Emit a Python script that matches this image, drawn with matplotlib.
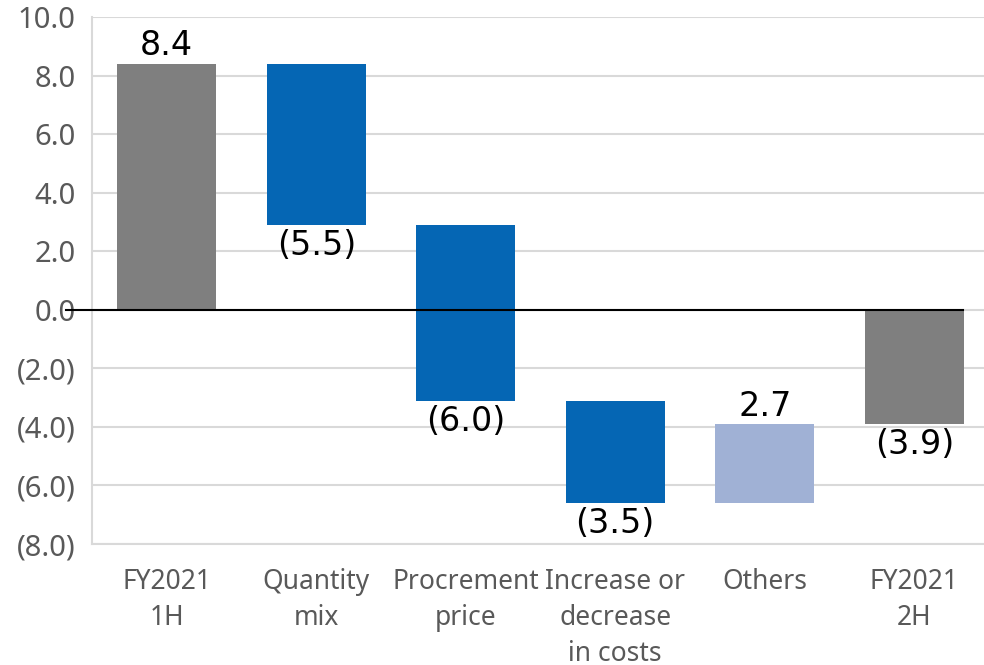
import matplotlib

matplotlib.use("Agg")
import matplotlib.pyplot as plt
import numpy as np

plt.rcParams.update(
    {
        "font.family": ["Noto Sans", "DejaVu Sans"],
        "figure.facecolor": "white",
        "axes.facecolor": "white",
    }
)

CATEGORIES = [
    "FY2021\n1H",
    "Quantity\nmix",
    "Procrement\nprice",
    "Increase or\ndecrease\nin costs",
    "Others",
    "FY2021\n2H",
]
# first and last entries are totals, the rest are changes
CHANGES = [8.4, -5.5, -6.0, -3.5, 2.7, -3.9]
KINDS = ["total", "down", "down", "down", "up", "total"]

Y_TICKS = [-8, -6, -4, -2, 0, 2, 4, 6, 8, 10]

COLORS = {"total": "#7f7f7f", "down": "#0566b4", "up": "#a0b1d5"}


def fmt(v):
    return f"({abs(v):.1f})" if v < 0 else f"{v:.1f}"


fig = plt.figure(figsize=(9.84, 6.65), dpi=100)
ax = fig.add_axes([92 / 984, 1 - 544 / 665, 897 / 984, 527 / 665])

x = np.arange(len(CATEGORIES))
bottoms, heights = [], []
running = 0.0
for v, kind in zip(CHANGES, KINDS):
    if kind == "total":
        bottoms.append(0.0)
        heights.append(v)
        running = v
    else:
        bottoms.append(running)
        heights.append(v)
        running += v

bars = ax.bar(
    x,
    heights,
    bottom=bottoms,
    width=0.66,
    color=[COLORS[k] for k in KINDS],
    edgecolor="none",
    zorder=3,
)

for xi, b, h in zip(x, bottoms, heights):
    if h >= 0:
        ax.annotate(fmt(h), (xi, b + h), xytext=(0, 1), textcoords="offset points",
                    ha="center", va="bottom", fontsize=24, color="black",
                    family="DejaVu Sans", zorder=5)
    else:
        ax.annotate(fmt(h), (xi, b + h), xytext=(0, -3), textcoords="offset points",
                    ha="center", va="top", fontsize=24, color="black",
                    family="DejaVu Sans", zorder=5)

ax.axhline(0, xmin=-0.029, xmax=0.971, color="black", linewidth=1.5,
           clip_on=False, zorder=4)

ax.set_xlim(-0.5, len(CATEGORIES) - 0.5)
ax.set_ylim(Y_TICKS[0], Y_TICKS[-1])
ax.set_yticks(Y_TICKS)
ax.set_yticklabels([fmt(float(t)) for t in Y_TICKS])
ax.set_xticks(x)
ax.set_xticklabels(CATEGORIES, linespacing=1.4)

ax.grid(axis="y", color="#d9d9d9", linewidth=1.5, zorder=0)
ax.set_axisbelow(True)
for side in ("top", "right"):
    ax.spines[side].set_visible(False)
for side in ("left", "bottom"):
    ax.spines[side].set_color("#d9d9d9")
    ax.spines[side].set_linewidth(1.5)

ax.tick_params(axis="both", length=0, colors="#595959")
ax.tick_params(axis="y", pad=12, labelsize=21)
ax.tick_params(axis="x", pad=17, labelsize=19)

fig.savefig("out.png", dpi=100)
